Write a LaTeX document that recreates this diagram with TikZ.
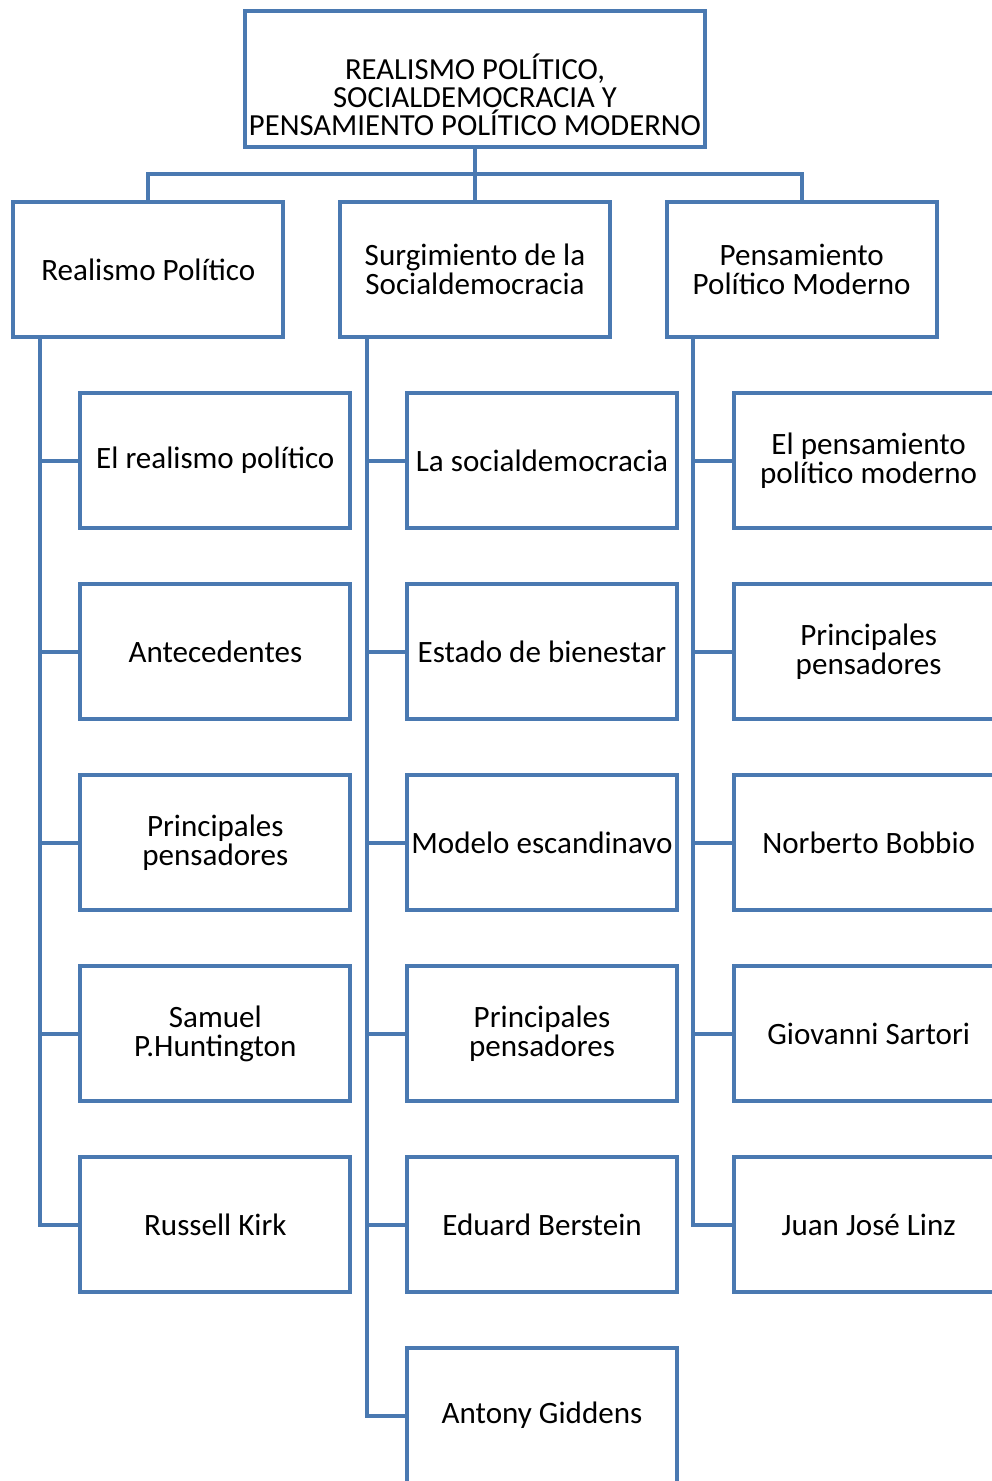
\documentclass[tikz,border=0pt]{standalone}
\usepackage{fontspec}
\setmainfont{Carlito}
\usetikzlibrary{positioning}
\definecolor{azul}{HTML}{4A79B1}
\setlength{\lineskiplimit}{-100pt}

\begin{document}
\begin{tikzpicture}[
  x=0.75pt, y=-0.75pt,
  box/.style={
    draw=azul, line width=3pt, fill=white,
    minimum width=202.5pt, minimum height=101.5pt,
    align=center, inner sep=1pt,
    font=\fontsize{23.3}{21.75}\selectfont
  },
  tope/.style={box, minimum width=345pt, minimum height=102pt,
    font=\fontsize{23}{21}\selectfont},
  conn/.style={draw=azul, line width=3pt}
]
  \path[use as bounding box, clip] (0,0) rectangle (992,1481);
  % raiz
  \node[tope] (raiz) at (475,79)
    {\mbox{}\\[22pt]REALISMO POLÍTICO,\\ SOCIALDEMOCRACIA Y\\ PENSAMIENTO POLÍTICO MODERNO};
  % primer nivel
  \node[box, below=38pt of raiz] (soc) {Surgimiento de la\\ Socialdemocracia};
  \node[box, left=39.5pt of soc]  (rea) {Realismo Político};
  \node[box, right=39.5pt of soc] (pen) {Pensamiento\\ Político Moderno};
  \draw[conn] (raiz.south) -- (soc.north);
  \draw[conn] (raiz.south) -- ++(0,-18.5pt) -| (rea.north);
  \draw[conn] (raiz.south) -- ++(0,-18.5pt) -| (pen.north);
  % realismo politico
  \node[box, below right=39pt and 50.25pt of rea.south west] (rea1) {El realismo político};
  \node[box, below=38.75pt of rea1] (rea2) {Antecedentes};
  \node[box, below=38.75pt of rea2] (rea3) {Principales\\ pensadores};
  \node[box, below=38.75pt of rea3] (rea4) {Samuel\\ P.Huntington};
  \node[box, below=38.75pt of rea4] (rea5) {Russell Kirk};
  % socialdemocracia
  \node[box, below right=39pt and 50.25pt of soc.south west] (soc1) {La socialdemocracia};
  \node[box, below=38.75pt of soc1] (soc2) {Estado de bienestar};
  \node[box, below=38.75pt of soc2] (soc3) {Modelo escandinavo};
  \node[box, below=38.75pt of soc3] (soc4) {Principales\\ pensadores};
  \node[box, below=38.75pt of soc4] (soc5) {Eduard Berstein};
  \node[box, below=38.75pt of soc5] (soc6) {Antony Giddens};
  % pensamiento politico moderno
  \node[box, below right=39pt and 50.25pt of pen.south west] (pen1) {El pensamiento\\ político moderno};
  \node[box, below=38.75pt of pen1] (pen2) {Principales\\ pensadores};
  \node[box, below=38.75pt of pen2] (pen3) {Norberto Bobbio};
  \node[box, below=38.75pt of pen3] (pen4) {Giovanni Sartori};
  \node[box, below=38.75pt of pen4] (pen5) {Juan José Linz};
  % conectores
  \foreach \i in {1,...,5}
    \draw[conn] ([xshift=21.5pt]rea.south west) |- (rea\i.west);
  \foreach \i in {1,...,6}
    \draw[conn] ([xshift=21.5pt]soc.south west) |- (soc\i.west);
  \foreach \i in {1,...,5}
    \draw[conn] ([xshift=21.5pt]pen.south west) |- (pen\i.west);
\end{tikzpicture}
\end{document}
